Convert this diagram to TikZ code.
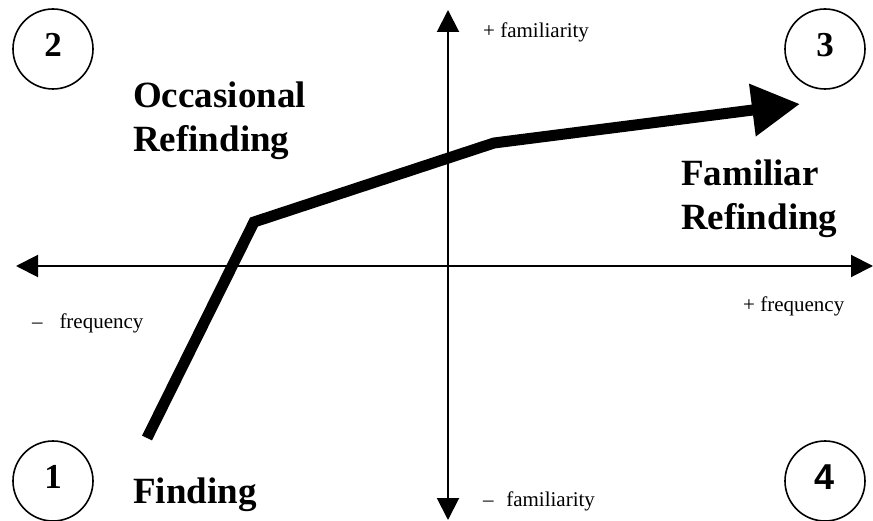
\documentclass[tikz,border=0pt]{standalone}
\usepackage{fontspec}
\setmainfont{Liberation Serif}
\newfontfamily\arialfont{Liberation Sans}
\usetikzlibrary{arrows.meta}
\tikzset{
  axis/.style={line width=2pt,{Triangle[length=22pt,width=22pt]}-{Triangle[length=22pt,width=22pt]}},
  trail/.style={line width=11pt,-{Triangle[length=48pt,width=50pt]}},
  quad/.style={circle,draw,line width=1.6pt,minimum size=80pt,inner sep=0pt},
  qnum/.style={font=\fontsize{35}{40}\selectfont\bfseries,yshift=4pt},
  bigtext/.style={font=\fontsize{37}{44}\selectfont\bfseries,align=left,inner sep=0pt,anchor=north west},
  smalltext/.style={font=\fontsize{21}{24}\selectfont,inner sep=0pt,anchor=base west}
}
\begin{document}
\begin{tikzpicture}[x=1pt,y=-1pt]
      \useasboundingbox (0,0) rectangle (873,521);
      % axis ends
      \coordinate (west) at (16,266);
      \coordinate (east) at (873,266);
      \coordinate (north) at (448,10);
      \coordinate (south) at (448,520);
      \draw[axis] (west) -- (east);
      \draw[axis] (north) -- (south);
      % quadrants
      \node[quad,label={[qnum]center:2}] (q2) at (53,49) {};
      \node[quad,label={[qnum]center:3}] (q3) at (825,49) {};
      \node[quad,label={[qnum]center:1}] (q1) at (53,481) {};
      \node[quad,label={[qnum,font=\fontsize{36}{40}\selectfont\bfseries\arialfont]center:4}] (q4) at (825,481) {};
      % labels
      \node[bigtext] (occ) at (133,82) {Occasional\\Refinding};
      \node[bigtext] (fam) at (681,160) {Familiar\\Refinding};
      \node[bigtext,anchor=base west] (find) at (133,503) {Finding};
      \node[smalltext] (plusfam) at (483,38) {+ familiarity};
      \node[smalltext] (minusfam) at (483,506) {--\hspace{0.6em}familiarity};
      \node[smalltext] (minusfreq) at (32,329) {--\hspace{0.8em}frequency};
      \node[smalltext] (plusfreq) at (743,312) {+ frequency};
      % path from finding to familiar refinding
      \coordinate (start) at (147,438);
      \coordinate (bend1) at (254,222);
      \coordinate (bend2) at (494,143);
      \coordinate (tip) at (800,104);
      \draw[trail] (start) -- (bend1) -- (bend2) -- (tip);
    \end{tikzpicture}
\end{document}
